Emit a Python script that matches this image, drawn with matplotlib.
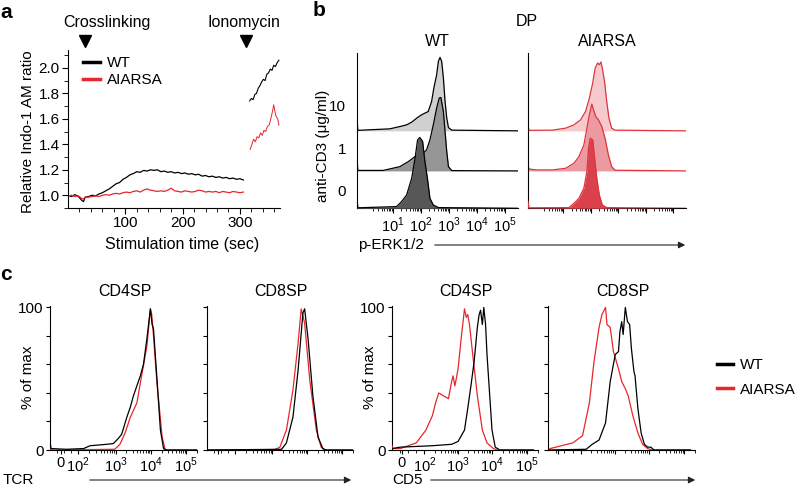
import numpy as np
import matplotlib.pyplot as plt

plt.rcParams['font.family'] = ['Liberation Sans', 'DejaVu Sans']
plt.rcParams['mathtext.fontset'] = 'custom'
plt.rcParams['mathtext.rm'] = 'Liberation Sans'
plt.rcParams['font.size'] = 11
plt.rcParams['axes.linewidth'] = 0.8
plt.rcParams['xtick.major.width'] = 0.8
plt.rcParams['ytick.major.width'] = 0.8
plt.rcParams['xtick.minor.width'] = 0.6
plt.rcParams['ytick.minor.width'] = 0.6

RED = '#e8262c'

# ---- panel a: calcium flux (Indo-1 ratio) ----
t_wt = [0, 6, 12, 18, 24, 27, 30, 36, 42, 48, 54, 60, 66, 72, 78, 84, 90, 96, 102, 108,
        114, 120, 126, 132, 138, 144, 150, 156, 162, 168, 174, 180, 186, 192, 198, 204,
        210, 216, 222, 228, 234, 240, 246, 252, 258, 264, 270, 276, 282, 288, 294, 300, 306]
r_wt = [1.00, 0.99, 1.005, 0.99, 0.96, 0.95, 0.985, 0.99, 1.00, 0.995, 1.01, 1.02, 1.035,
        1.05, 1.07, 1.09, 1.10, 1.125, 1.14, 1.16, 1.17, 1.185, 1.18, 1.195, 1.19, 1.20,
        1.195, 1.20, 1.185, 1.19, 1.18, 1.185, 1.175, 1.18, 1.17, 1.175, 1.165, 1.17, 1.16,
        1.165, 1.15, 1.155, 1.145, 1.15, 1.14, 1.145, 1.135, 1.14, 1.13, 1.135, 1.125, 1.13, 1.12]
r_ai = [0.995, 1.0, 0.99, 0.995, 0.975, 0.97, 0.985, 0.985, 0.99, 0.995, 0.99, 1.0, 1.005,
        1.0, 1.01, 1.015, 1.01, 1.02, 1.025, 1.02, 1.03, 1.035, 1.025, 1.04, 1.05, 1.04,
        1.035, 1.03, 1.035, 1.03, 1.04, 1.055, 1.035, 1.03, 1.025, 1.035, 1.03, 1.025, 1.03,
        1.04, 1.035, 1.025, 1.03, 1.025, 1.03, 1.02, 1.03, 1.025, 1.02, 1.03, 1.025, 1.02, 1.025]
t_iono_wt = [317, 320, 323, 326, 329, 332, 335, 338, 341, 344, 347, 350, 353, 356, 359, 362, 365, 368]
r_iono_wt = [1.74, 1.76, 1.75, 1.79, 1.80, 1.84, 1.86, 1.89, 1.91, 1.90, 1.95, 1.96, 1.99,
             1.98, 2.02, 2.01, 2.04, 2.06]
t_iono_ai = [318, 321, 324, 327, 330, 333, 336, 339, 342, 345, 348, 351, 354, 357, 359, 361, 363, 366, 368]
r_iono_ai = [1.36, 1.40, 1.44, 1.42, 1.46, 1.45, 1.49, 1.47, 1.51, 1.50, 1.54, 1.55, 1.60,
             1.66, 1.71, 1.66, 1.62, 1.60, 1.55]
stim_times = [30, 311]
stim_names = ['Crosslinking', 'Ionomycin']

# ---- panel b: p-ERK1/2 histograms, x in display decades, heights in px ----
dose_labels = ['0', '1', '10']
row_offset = [0, 37.3, 77.3]
b_wt_x = [
    [-0.28, -0.25, 1.13, 1.31, 1.49, 1.67, 1.79, 1.88, 1.96, 2.06, 2.14, 2.23, 2.32, 2.44, 2.62, 5.46],
    [-0.28, -0.25, 0.65, 0.89, 1.25, 1.55, 1.79, 2.02, 2.20, 2.32, 2.44, 2.56, 2.65, 2.71, 2.80, 2.86, 2.92, 2.98, 3.10, 5.46],
    [-0.28, -0.25, 0.89, 1.25, 1.49, 1.67, 1.85, 2.02, 2.26, 2.38, 2.46, 2.56, 2.62, 2.68, 2.74, 2.80, 2.86, 2.92, 2.98, 3.10, 5.46],
]
b_wt_h = [
    [9, 0.5, 1.7, 6.7, 13.3, 30, 50, 68.3, 70.7, 66.7, 46.7, 30, 10, 3.3, 0.7, 0],
    [11, 0.5, 0.5, 2, 4.3, 9.3, 14.3, 16, 21, 31, 46, 62.7, 72.7, 73.3, 59.3, 39.3, 19.3, 4.3, 0.3, 0],
    [11, 0.5, 2, 4.3, 6, 8.7, 12.7, 16, 19.3, 29.3, 42.7, 56, 69.3, 73.3, 69.3, 52.7, 29.3, 12.7, 3.3, 0.7, 0],
]
b_ai_x = [
    [-0.28, -0.25, 1.21, 1.39, 1.57, 1.75, 1.86, 1.92, 1.98, 2.07, 2.14, 2.22, 2.31, 2.42, 2.58, 5.46],
    [-0.28, -0.25, 0.02, 0.61, 1.09, 1.39, 1.57, 1.75, 1.86, 1.95, 2.04, 2.10, 2.18, 2.28, 2.40, 2.52, 2.64, 2.76, 2.88, 5.46],
    [-0.28, -0.25, 0.61, 1.09, 1.39, 1.63, 1.81, 1.95, 2.07, 2.16, 2.25, 2.31, 2.37, 2.43, 2.50, 2.58, 2.66, 2.76, 2.88, 5.46],
]
b_ai_h = [
    [7, 0.5, 0.7, 5, 10, 20, 36.7, 60, 70, 68.3, 50, 30, 13.3, 3.3, 0.7, 0],
    [8, 2, 1, 1, 2.7, 7.7, 14.3, 26, 42.7, 56, 66.7, 61, 54.3, 51, 44.3, 32.7, 16, 4.3, 0.7, 0],
    [7, 0.5, 0.7, 2.7, 6, 11, 19.3, 32.7, 47.7, 62.7, 67.7, 66, 68.7, 61, 49.3, 29.3, 12.7, 2.7, 0.7, 0],
]
b_wt_fill = ['#575757', '#969696', '#d0d0d0']
b_ai_fill = ['#d9414d', '#ec9aa1', '#f6cacd']

# ---- panel c: TCR and CD5 histograms (% of max) ----
tcr4_wt_x = [1.03, 1.06, 1.5, 2.0, 2.19, 2.67, 2.86, 3.0, 3.1, 3.15, 3.25, 3.35, 3.44, 3.54, 3.64,
             3.73, 3.83, 3.93, 3.98, 4.02, 4.12, 4.22, 4.31, 4.40, 5.27]
tcr4_wt_y = [6, 1, 0.5, 1, 3, 4, 4.5, 8, 11, 15, 23, 30, 38, 45, 52, 60, 78, 99, 88, 85, 50, 14, 1, 0, 0]
tcr4_ai_x = [1.03, 1.06, 2.9, 3.05, 3.2, 3.35, 3.54, 3.64, 3.83, 3.93, 3.97, 4.02, 4.12, 4.27, 4.36, 5.27]
tcr4_ai_y = [2, 0, 0.5, 4, 12, 23, 33, 47, 73, 99, 95, 80, 47, 9, 0, 0]
tcr8_wt_x = [1.03, 3.2, 3.34, 3.53, 3.68, 3.82, 3.87, 3.97, 4.11, 4.26, 4.40, 4.5, 5.27]
tcr8_wt_y = [0, 0.5, 5, 23, 56, 96, 99, 78, 38, 9, 1, 0, 0]
tcr8_ai_x = [1.03, 3.0, 3.15, 3.34, 3.53, 3.68, 3.77, 3.87, 4.02, 4.21, 4.35, 4.45, 5.27]
tcr8_ai_y = [0, 0.3, 2, 14, 42, 75, 99, 89, 49, 14, 2, 0, 0]
cd5_4_wt_x = [1.15, 1.38, 2.28, 2.82, 3.0, 3.18, 3.27, 3.36, 3.45, 3.54, 3.59, 3.63, 3.68, 3.72,
              3.77, 3.81, 3.90, 3.95, 4.04, 4.17, 5.11]
cd5_4_wt_y = [1, 2, 3, 4, 6, 14, 29, 45, 62, 86, 95, 98, 88, 100, 88, 67, 33, 14, 2, 0, 0]
cd5_4_ai_x = [1.15, 1.18, 1.38, 1.83, 2.10, 2.28, 2.37, 2.46, 2.59, 2.73, 2.82, 2.86, 2.91, 2.95,
              3.0, 3.09, 3.18, 3.23, 3.27, 3.32, 3.41, 3.54, 3.68, 3.81, 3.99, 4.1, 5.11]
cd5_4_ai_y = [3, 1, 1, 5, 14, 24, 33, 40, 38, 36, 48, 52, 45, 50, 57, 79, 99, 93, 95, 88, 67, 38,
              14, 5, 1, 0, 0]
cd5_8_wt_x = [1.15, 2.21, 2.38, 2.57, 2.75, 2.88, 3.02, 3.11, 3.15, 3.20, 3.24, 3.30, 3.36, 3.42,
              3.47, 3.54, 3.57, 3.65, 3.74, 3.83, 3.92, 4.01, 4.10, 5.11]
cd5_8_wt_y = [0, 0.5, 4, 7, 19, 48, 67, 69, 83, 90, 81, 100, 90, 88, 71, 55, 52, 29, 12, 4, 2, 2, 0, 0]
cd5_8_ai_x = [1.15, 1.21, 1.84, 2.11, 2.30, 2.43, 2.57, 2.65, 2.75, 2.79, 2.88, 2.97, 3.11, 3.20,
              3.30, 3.38, 3.51, 3.65, 3.78, 3.92, 4.05, 5.11]
cd5_8_ai_y = [0, 1, 5, 10, 33, 62, 86, 95, 100, 88, 86, 69, 57, 48, 43, 38, 24, 12, 4, 1, 0, 0]

tcr_ticks = [1.34, 1.83, 2.93, 3.95, 4.97]
cd5_ticks = [1.43, 2.06, 3.0, 3.95, 4.94]
c_tick_labels = [r'$0$', r'$10^{2}$', r'$10^{3}$', r'$10^{4}$', r'$10^{5}$']

W, H = 800, 488


def box(l, t, r, b):
    return [l / W, 1 - b / H, (r - l) / W, (b - t) / H]


def fx(x):
    return x / W


def fy(y):
    return 1 - y / H


def clean(ax):
    ax.spines['top'].set_visible(False)
    ax.spines['right'].set_visible(False)


fig = plt.figure(figsize=(8, 4.88), dpi=100)

# ================= a =================
ax = fig.add_axes(box(68, 50, 280, 208))
clean(ax)
ax.plot(t_wt, r_wt, color='black', lw=0.9, label='WT')
ax.plot(t_wt, r_ai, color=RED, lw=0.9, label='AIARSA')
ax.plot(t_iono_wt, r_iono_wt, color='black', lw=0.8)
ax.plot(t_iono_ai, r_iono_ai, color=RED, lw=0.7)
ax.set_xlim(0, 370)
ax.set_ylim(0.9, 2.14)
ax.set_xticks([100, 200, 300])
ax.set_xticks(np.arange(20, 370, 20), minor=True)
ax.set_yticks([1.0, 1.2, 1.4, 1.6, 1.8, 2.0])
ax.set_yticks(np.arange(0.9, 2.15, 0.1), minor=True)
ax.yaxis.set_major_formatter(plt.FormatStrFormatter('%.1f'))
ax.tick_params(which='major', length=4, labelsize=11, pad=2)
ax.tick_params(which='minor', length=3)
for t, name in zip(stim_times, stim_names):
    ax.plot(t, 2.21, marker='v', color='black', ms=8, clip_on=False)
fig.text(fx(107), fy(22), stim_names[0], ha='center', va='center', fontsize=11.5)
fig.text(fx(244), fy(22), stim_names[1], ha='center', va='center', fontsize=11.5)
ax.legend(loc='upper left', bbox_to_anchor=(fx(83), fy(56)), bbox_transform=fig.transFigure,
          frameon=False, borderpad=0, borderaxespad=0, handlelength=1.1, handletextpad=0.45,
          labelspacing=0.2, fontsize=11)
for line in ax.get_legend().get_lines():
    line.set_linewidth(2.5)
fig.text(fx(28), fy(132), 'Relative Indo-1 AM ratio', rotation=90, ha='center', va='center',
         fontsize=11)
fig.text(fx(182), fy(245), 'Stimulation time (sec)', ha='center', va='center', fontsize=11.5)
fig.text(fx(0), fy(13), 'a', fontweight='bold', fontsize=15, ha='left', va='center')

# ================= b =================
b_minor = [k + np.log10(m) for k in range(0, 5) for m in range(2, 10)]
for i, (xs, hs, fills, edge, title) in enumerate([
        (b_wt_x, b_wt_h, b_wt_fill, 'black', 'WT'),
        (b_ai_x, b_ai_h, b_ai_fill, '#e0343c', 'AIARSA')]):
    l, r = (357, 518) if i == 0 else (528, 686)
    ax = fig.add_axes(box(l, 53, r, 208.3))
    clean(ax)
    for row in [2, 1, 0]:
        x = np.array(xs[row])
        y = np.array(hs[row]) + row_offset[row]
        ax.fill_between(x, row_offset[row], y, color=fills[row], lw=0, zorder=3 - row)
        ax.plot(x, y, color=edge, lw=0.9, zorder=3.5 - row)
    ax.set_xlim(-0.28, 5.46)
    ax.set_ylim(0, 155)
    ax.set_xticks([1, 2, 3, 4, 5])
    ax.set_xticks(b_minor, minor=True)
    ax.tick_params(axis='x', which='major', length=3.5, labelsize=10.5, pad=2)
    ax.tick_params(axis='x', which='minor', length=2)
    ax.set_yticks([18, 60, 103])
    ax.tick_params(axis='y', length=0, pad=8, labelsize=11)
    if i == 0:
        ax.set_xticklabels([r'$10^{%d}$' % k for k in range(1, 6)])
        ax.set_yticklabels(dose_labels)
    else:
        ax.set_xticklabels([])
        ax.set_yticklabels([])
    fig.text(fx((l + r) / 2), fy(42), title, ha='center', va='center', fontsize=11.5)
fig.text(fx(527), fy(21), 'DP', ha='center', va='center', fontsize=11.5)
fig.text(fx(323), fy(146), 'anti-CD3 (μg/ml)', rotation=90, ha='center', va='center', fontsize=11)
fig.text(fx(358), fy(245), 'p-ERK1/2', ha='left', va='center', fontsize=11)
ax.annotate('', xy=(fx(688), fy(245)), xytext=(fx(432), fy(245)), xycoords='figure fraction',
            arrowprops=dict(arrowstyle='-|>', color='#222222', lw=0.8, mutation_scale=10))
fig.text(fx(313), fy(10), 'b', fontweight='bold', fontsize=15, ha='left', va='center')

# ================= c =================
panels = [
    (50, 197, tcr4_wt_x, tcr4_wt_y, tcr4_ai_x, tcr4_ai_y, (1.03, 5.27), tcr_ticks, True, 'CD4SP'),
    (207, 353, tcr8_wt_x, tcr8_wt_y, tcr8_ai_x, tcr8_ai_y, (1.03, 5.27), tcr_ticks, False, 'CD8SP'),
    (392, 538, cd5_4_wt_x, cd5_4_wt_y, cd5_4_ai_x, cd5_4_ai_y, (1.15, 5.11), cd5_ticks, True, 'CD4SP'),
    (548, 695, cd5_8_wt_x, cd5_8_wt_y, cd5_8_ai_x, cd5_8_ai_y, (1.15, 5.11), cd5_ticks, False, 'CD8SP'),
]
for l, r, wx, wy, rx, ry, xl, ticks, labelled, title in panels:
    ax = fig.add_axes(box(l, 306, r, 450))
    clean(ax)
    ax.plot(rx, ry, color=RED, lw=0.9, label='AIARSA', zorder=3)
    ax.plot(wx, wy, color='black', lw=0.9, label='WT', zorder=4)
    ax.set_xlim(xl)
    ax.set_ylim(0, 101)
    minor = [a + np.log10(m) * (b - a) for a, b in zip(ticks[1:-1], ticks[2:]) for m in range(2, 10)]
    minor += [ticks[-1] + np.log10(m) * (ticks[-1] - ticks[-2]) for m in range(2, 3)]
    minor += list(np.linspace(xl[0], ticks[1], 5)[1:-1])
    ax.set_xticks(ticks)
    ax.set_xticks(minor, minor=True)
    ax.set_yticks([0, 20, 40, 60, 80, 100])
    ax.tick_params(which='major', length=3, labelsize=11, pad=1.5)
    ax.tick_params(axis='x', which='major', labelsize=10.5, pad=1)
    ax.tick_params(which='minor', length=2)
    if labelled:
        ax.set_xticklabels(c_tick_labels)
        ax.set_yticklabels(['0', '', '', '', '', '100'])
        fig.text(fx(l - 22), fy(377), '% of max', rotation=90, ha='center', va='center', fontsize=11)
    else:
        ax.set_xticklabels([])
        ax.set_yticklabels([])
    fig.text(fx((l + r) / 2 + 1), fy(292), title, ha='center', va='center', fontsize=11.5)

handles, labels_ = ax.get_legend_handles_labels()
leg = fig.legend(handles[::-1], labels_[::-1], loc='upper left', bbox_to_anchor=(fx(717), fy(358)),
                 frameon=False, borderpad=0, borderaxespad=0, handlelength=1.05,
                 handletextpad=0.45, labelspacing=0.7, fontsize=11)
for line in leg.get_lines():
    line.set_linewidth(2.5)

fig.text(fx(3), fy(480), 'TCR', ha='left', va='center', fontsize=11)
fig.text(fx(392), fy(480), 'CD5', ha='left', va='center', fontsize=11)
for x0, x1 in [(87, 354), (428, 698)]:
    ax.annotate('', xy=(fx(x1), fy(480)), xytext=(fx(x0), fy(480)), xycoords='figure fraction',
                arrowprops=dict(arrowstyle='-|>', color='#222222', lw=0.8, mutation_scale=10))
fig.text(fx(0), fy(274), 'c', fontweight='bold', fontsize=15, ha='left', va='center')

fig.savefig('out.png', dpi=100)
